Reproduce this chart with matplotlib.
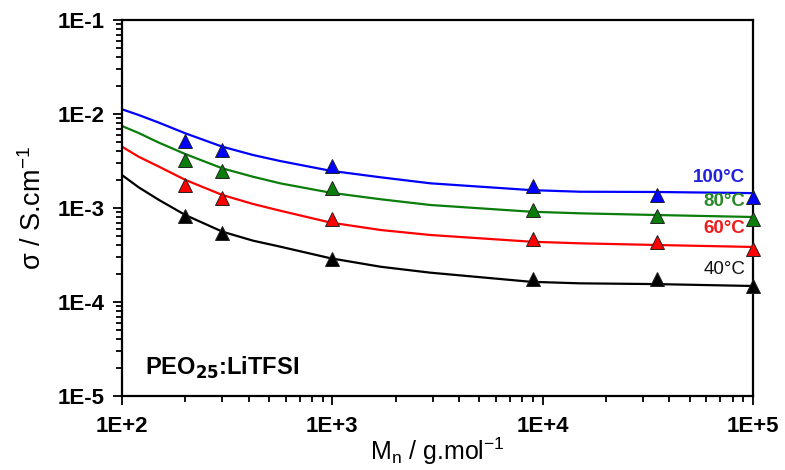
import matplotlib
matplotlib.use("Agg")
import matplotlib.pyplot as plt
from matplotlib.ticker import FixedLocator, FixedFormatter, LogLocator, NullFormatter

plt.rcParams['font.family'] = ['Liberation Sans', 'DejaVu Sans']

# measured points: molar mass (g/mol) and conductivity (S/cm)
mn_points = [200, 300, 1000, 9000, 35000, 100000]
sigma_100 = [5.2e-3, 4.14e-3, 2.83e-3, 1.71e-3, 1.38e-3, 1.30e-3]
sigma_80 = [3.23e-3, 2.48e-3, 1.63e-3, 9.5e-4, 8.2e-4, 7.6e-4]
sigma_60 = [1.76e-3, 1.29e-3, 7.6e-4, 4.64e-4, 4.3e-4, 3.7e-4]
sigma_40 = [8.2e-4, 5.4e-4, 2.87e-4, 1.75e-4, 1.75e-4, 1.47e-4]

# fitted curves
mn_fit = [100, 120, 150, 200, 300, 420, 565, 980, 1700, 2930, 8800, 15000, 35000, 100000]
fit_100 = [1.122e-2, 9.76e-3, 8.08e-3, 6.23e-3, 4.49e-3, 3.66e-3, 3.16e-3,
           2.49e-3, 2.12e-3, 1.83e-3, 1.55e-3, 1.49e-3, 1.48e-3, 1.44e-3]
fit_80 = [7.45e-3, 6.28e-3, 4.95e-3, 3.75e-3, 2.64e-3, 2.15e-3, 1.83e-3,
          1.455e-3, 1.238e-3, 1.076e-3, 9.13e-4, 8.78e-4, 8.42e-4, 8.02e-4]
fit_60 = [4.49e-3, 3.51e-3, 2.75e-3, 1.99e-3, 1.375e-3, 1.103e-3, 9.36e-4,
          7.0e-4, 5.83e-4, 5.16e-4, 4.38e-4, 4.21e-4, 4.04e-4, 3.85e-4]
fit_40 = [2.24e-3, 1.66e-3, 1.217e-3, 8.42e-4, 5.60e-4, 4.49e-4, 3.88e-4,
          2.92e-4, 2.37e-4, 2.05e-4, 1.64e-4, 1.58e-4, 1.55e-4, 1.48e-4]

labels = ['100°C', '80°C', '60°C', '40°C']
label_y = [2.09e-3, 1.16e-3, 5.98e-4, 2.24e-4]
colors = ['#0000ff', '#0a7d0a', '#ff0000', '#000000']
text_colors = ['#2222dd', '#2a8a2a', '#ee1c1c', '#111111']

x_ticks = [1e2, 1e3, 1e4, 1e5]
x_tick_labels = ['1E+2', '1E+3', '1E+4', '1E+5']
y_ticks = [1e-5, 1e-4, 1e-3, 1e-2, 1e-1]
y_tick_labels = ['1E-5', '1E-4', '1E-3', '1E-2', '1E-1']


def main():
    fig = plt.figure(figsize=(7.85, 4.7), dpi=100)
    ax = fig.add_axes([122 / 785, 1 - 396 / 470, (753 - 122) / 785, (396 - 20) / 470])

    points = [sigma_100, sigma_80, sigma_60, sigma_40]
    fits = [fit_100, fit_80, fit_60, fit_40]
    for pts, fit, c in zip(points, fits, colors):
        ax.plot(mn_fit, fit, color=c, lw=1.6, zorder=2)
        ax.plot(mn_points, pts, linestyle='none', marker='^', ms=9.5,
                mfc=c, mec='#222222', mew=0.7, clip_on=False, zorder=3)

    for lab, y, c in zip(labels, label_y, text_colors):
        ax.text(9.2e4, y, lab, color=c, fontsize=13.5,
                fontweight='normal' if lab == '40°C' else 'bold',
                ha='right', va='center')

    ax.text(1.29e2, 1.99e-5, 'PEO$_{\\mathbf{25}}$:LiTFSI', fontsize=17,
            fontweight='bold', ha='left', va='center')

    ax.set_xscale('log')
    ax.set_yscale('log')
    ax.set_xlim(1e2, 1e5)
    ax.set_ylim(1e-5, 1e-1)

    ax.xaxis.set_major_locator(FixedLocator(x_ticks))
    ax.xaxis.set_major_formatter(FixedFormatter(x_tick_labels))
    ax.yaxis.set_major_locator(FixedLocator(y_ticks))
    ax.yaxis.set_major_formatter(FixedFormatter(y_tick_labels))
    ax.xaxis.set_minor_locator(LogLocator(base=10, subs=range(2, 10)))
    ax.yaxis.set_minor_locator(LogLocator(base=10, subs=range(2, 10)))
    ax.xaxis.set_minor_formatter(NullFormatter())
    ax.yaxis.set_minor_formatter(NullFormatter())

    ax.tick_params(which='both', direction='out', top=False, right=False, width=1.3)
    ax.tick_params(which='major', length=6.5, labelsize=16)
    ax.tick_params(axis='x', which='major', pad=8)
    ax.tick_params(axis='y', which='major', pad=6)
    ax.tick_params(which='minor', length=4)
    for lab in ax.get_xticklabels() + ax.get_yticklabels():
        lab.set_fontweight('bold')
    for sp in ax.spines.values():
        sp.set_linewidth(1.6)

    ax.set_xlabel('M$_\\mathregular{n}$ / g.mol$^\\mathregular{-1}$', fontsize=18, labelpad=-1)
    ax.set_ylabel('σ / S.cm$^\\mathregular{-1}$', fontsize=19.5, labelpad=8)

    fig.savefig('out.png', dpi=100)


if __name__ == "__main__":
    main()
